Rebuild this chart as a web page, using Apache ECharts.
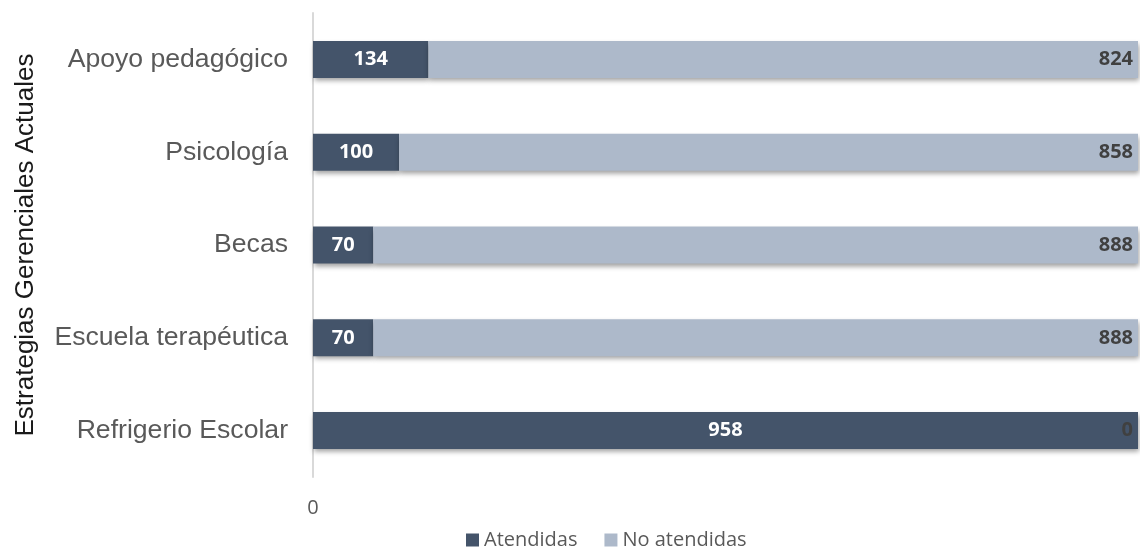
<!DOCTYPE html>
<html>
<head>
<meta charset="utf-8">
<script src="https://cdn.jsdelivr.net/npm/echarts@6/dist/echarts.min.js"></script>
<style>
  html, body { margin: 0; padding: 0; background: #ffffff; }
  #chart { width: 1140px; height: 548px; }
</style>
</head>
<body>
<div id="chart"></div>
<script>
// Strategies, listed top to bottom
const categories = ['Apoyo pedagógico', 'Psicología', 'Becas', 'Escuela terapéutica', 'Refrigerio Escolar'];
// Students attended / not attended by each strategy
const atendidas = [134, 100, 70, 70, 958];
const noAtendidas = [824, 858, 888, 888, 0];
const seriesNames = ['Atendidas', 'No atendidas'];
const axisTitle = 'Estrategias Gerenciales Actuales';
const total = 958;

const barShadow = {
  shadowColor: 'rgba(0,0,0,0.38)',
  shadowBlur: 5,
  shadowOffsetX: 1,
  shadowOffsetY: 3
};

const chart = echarts.init(document.getElementById('chart'), null, { renderer: 'canvas' });

chart.setOption({
  animation: false,
  backgroundColor: '#ffffff',
  grid: { left: 313, right: 2, top: 13, bottom: 71, containLabel: false, outerBoundsMode: 'none' },
  legend: {
    data: seriesNames,
    left: 461,
    top: 525,
    itemWidth: 13,
    itemHeight: 13,
    itemGap: 27,
    icon: 'rect',
    textStyle: { fontFamily: 'Open Sans', fontSize: 20, color: '#595959' }
  },
  xAxis: {
    type: 'value',
    min: 0,
    max: total,
    interval: total,
    axisLine: { show: false },
    axisTick: { show: false },
    splitLine: { show: false },
    axisLabel: {
      showMaxLabel: false,
      margin: 21,
      fontFamily: 'Open Sans',
      fontSize: 20,
      color: '#595959'
    }
  },
  yAxis: {
    type: 'category',
    data: categories,
    inverse: true,
    name: axisTitle,
    nameLocation: 'middle',
    nameRotate: 90,
    nameGap: 274,
    nameTextStyle: { fontFamily: 'Liberation Sans', fontSize: 26, color: '#1a1a1a' },
    axisLine: { show: true, lineStyle: { color: '#d9d9d9', width: 2 } },
    axisTick: { show: false },
    axisLabel: {
      margin: 25,
      fontFamily: 'Liberation Sans',
      fontSize: 26.6,
      color: '#595959'
    }
  },
  series: [
    {
      name: seriesNames[0],
      type: 'bar',
      stack: 'total',
      barWidth: 37,
      data: atendidas,
      itemStyle: Object.assign({ color: '#44546a' }, barShadow),
      label: {
        show: true,
        position: 'inside',
        fontFamily: 'Open Sans',
        fontWeight: 'bold',
        fontSize: 20,
        color: '#ffffff'
      }
    },
    {
      name: seriesNames[1],
      type: 'bar',
      stack: 'total',
      barWidth: 37,
      data: noAtendidas,
      itemStyle: Object.assign({ color: '#adb9ca' }, barShadow),
      label: {
        show: true,
        position: 'insideRight',
        distance: 5,
        fontFamily: 'Open Sans',
        fontWeight: 'bold',
        fontSize: 20,
        color: '#404040'
      }
    }
  ]
});
</script>
</body>
</html>
